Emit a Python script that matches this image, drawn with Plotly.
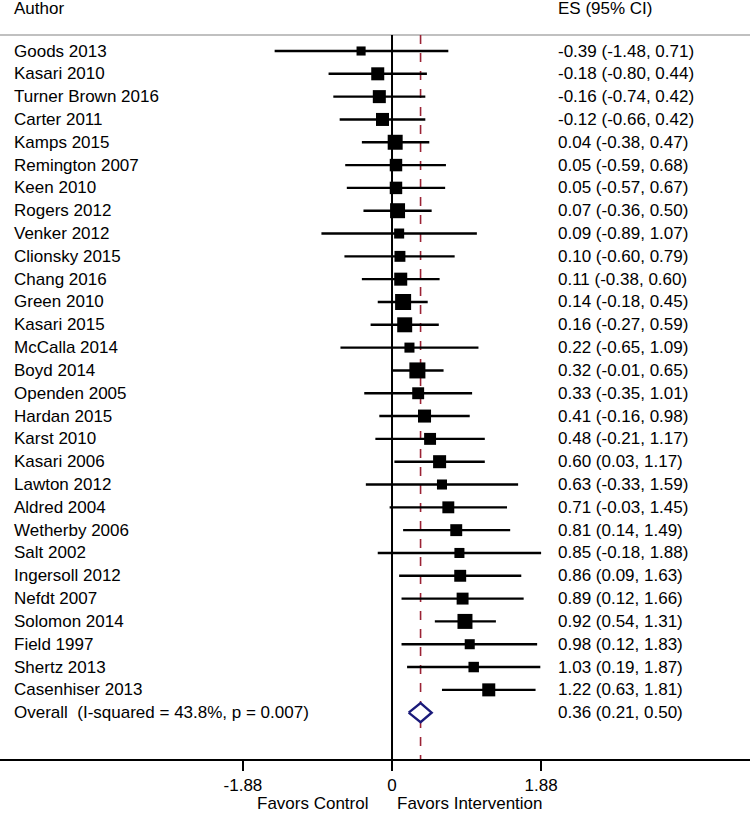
import plotly.graph_objects as go
import math

authors = ["Goods 2013", "Kasari 2010", "Turner Brown 2016", "Carter 2011", "Kamps 2015",
           "Remington 2007", "Keen 2010", "Rogers 2012", "Venker 2012", "Clionsky 2015",
           "Chang 2016", "Green 2010", "Kasari 2015", "McCalla 2014", "Boyd 2014",
           "Openden 2005", "Hardan 2015", "Karst 2010", "Kasari 2006", "Lawton 2012",
           "Aldred 2004", "Wetherby 2006", "Salt 2002", "Ingersoll 2012", "Nefdt 2007",
           "Solomon 2014", "Field 1997", "Shertz 2013", "Casenhiser 2013"]
es = [-0.39, -0.18, -0.16, -0.12, 0.04, 0.05, 0.05, 0.07, 0.09, 0.10, 0.11, 0.14, 0.16, 0.22,
      0.32, 0.33, 0.41, 0.48, 0.60, 0.63, 0.71, 0.81, 0.85, 0.86, 0.89, 0.92, 0.98, 1.03, 1.22]
lo = [-1.48, -0.80, -0.74, -0.66, -0.38, -0.59, -0.57, -0.36, -0.89, -0.60, -0.38, -0.18, -0.27,
      -0.65, -0.01, -0.35, -0.16, -0.21, 0.03, -0.33, -0.03, 0.14, -0.18, 0.09, 0.12, 0.54,
      0.12, 0.19, 0.63]
hi = [0.71, 0.44, 0.42, 0.42, 0.47, 0.68, 0.67, 0.50, 1.07, 0.79, 0.60, 0.45, 0.59, 1.09, 0.65,
      1.01, 0.98, 1.17, 1.17, 1.59, 1.45, 1.49, 1.88, 1.63, 1.66, 1.31, 1.83, 1.87, 1.81]
weights = [1.8, 3.7, 3.7, 3.7, 4.9, 3.4, 3.4, 4.9, 2.2, 2.6, 3.7, 5.6, 4.9, 2.2, 5.6, 3.1, 3.7,
           3.1, 3.7, 2.2, 3.1, 3.1, 2.2, 3.1, 3.1, 4.9, 2.2, 2.4, 3.7]
overall_label = "Overall  (I-squared = 43.8%, p = 0.007)"
overall_es, overall_lo, overall_hi = 0.36, 0.21, 0.50
tick_vals = [-1.88, 0, 1.88]
tick_text = ["-1.88", "0", "1.88"]

FONT = "Liberation Sans, Arial, Helvetica, sans-serif"
FS = 17
n = len(authors)
rows = list(range(n))
overall_row = n


def tfont():
    return dict(family=FONT, size=FS, color="black")


fig = go.Figure()

# CI lines
xs, ys = [], []
for i in rows:
    xs += [lo[i], hi[i], None]
    ys += [i, i, None]
fig.add_trace(go.Scatter(x=xs, y=ys, mode="lines", line=dict(color="black", width=2.4),
                         hoverinfo="skip", showlegend=False))
# squares
fig.add_trace(go.Scatter(x=es, y=rows, mode="markers",
                         marker=dict(symbol="square", color="black", opacity=1,
                                     size=[6.77 * math.sqrt(w) for w in weights],
                                     line=dict(width=0)),
                         showlegend=False))
# diamond
h = 0.42
fig.add_trace(go.Scatter(x=[overall_lo, overall_es, overall_hi, overall_es, overall_lo],
                         y=[overall_row, overall_row - h, overall_row, overall_row + h, overall_row],
                         mode="lines", fill="toself", fillcolor="white",
                         line=dict(color="#1a1a7a", width=2.4), showlegend=False))

ytop = -0.70
ybot = 31.03
fig.add_shape(type="line", x0=0, x1=0, y0=ytop, y1=ybot, xref="x", yref="y",
              line=dict(color="black", width=2), layer="below")
fig.add_shape(type="line", x0=overall_es, x1=overall_es, y0=ytop, y1=ybot, xref="x", yref="y",
              line=dict(color="#9b2335", width=1.6, dash="dash"), layer="below")
fig.add_shape(type="line", x0=0, x1=1, y0=ytop, y1=ytop, xref="paper", yref="y",
              line=dict(color="#c0c0c0", width=2), layer="below")

ann = []
ann.append(dict(x=12 / 750, y=-1.88, xref="paper", yref="y", text="Author", showarrow=False,
                xanchor="left", yanchor="middle", font=tfont()))
ann.append(dict(x=556 / 750, y=-1.88, xref="paper", yref="y", text="ES (95% CI)", showarrow=False,
                xanchor="left", yanchor="middle", font=tfont()))
for i in rows:
    ann.append(dict(x=12 / 750, y=i, xref="paper", yref="y", text=authors[i], showarrow=False,
                    xanchor="left", yanchor="middle", font=tfont()))
    ann.append(dict(x=556 / 750, y=i, xref="paper", yref="y",
                    text=f"{es[i]:.2f} ({lo[i]:.2f}, {hi[i]:.2f})", showarrow=False,
                    xanchor="left", yanchor="middle", font=tfont()))
ann.append(dict(x=12 / 750, y=overall_row, xref="paper", yref="y",
                text=overall_label.replace("  ", "&nbsp; "),
                showarrow=False, xanchor="left", yanchor="middle", font=tfont()))
ann.append(dict(x=556 / 750, y=overall_row, xref="paper", yref="y",
                text=f"{overall_es:.2f} ({overall_lo:.2f}, {overall_hi:.2f})", showarrow=False,
                xanchor="left", yanchor="middle", font=tfont()))
ann.append(dict(x=-0.28, y=0, xref="x", yref="paper", yshift=-44, yanchor="middle",
                text="Favors Control", showarrow=False, xanchor="right", font=tfont()))
ann.append(dict(x=0.04, y=0, xref="x", yref="paper", yshift=-44, yanchor="middle",
                text="Favors Intervention", showarrow=False, xanchor="left", font=tfont()))
fig.layout.annotations = ann

fig.update_layout(
    width=750, height=814,
    margin=dict(l=0, r=0, t=0, b=55),
    plot_bgcolor="white", paper_bgcolor="white",
    xaxis=dict(range=[-4.943, 4.514], showgrid=False, zeroline=False, showline=True,
               linecolor="black", linewidth=2, ticks="outside", ticklen=10, tickwidth=2,
               tickcolor="black", tickvals=tick_vals, ticktext=tick_text,
               tickfont=tfont(), fixedrange=True),
    yaxis=dict(range=[ybot, ytop - 1.535], visible=False, fixedrange=True),
    showlegend=False,
)

fig.write_html("out.html", config={"displayModeBar": False},
               post_script="document.body.style.margin='0';")
